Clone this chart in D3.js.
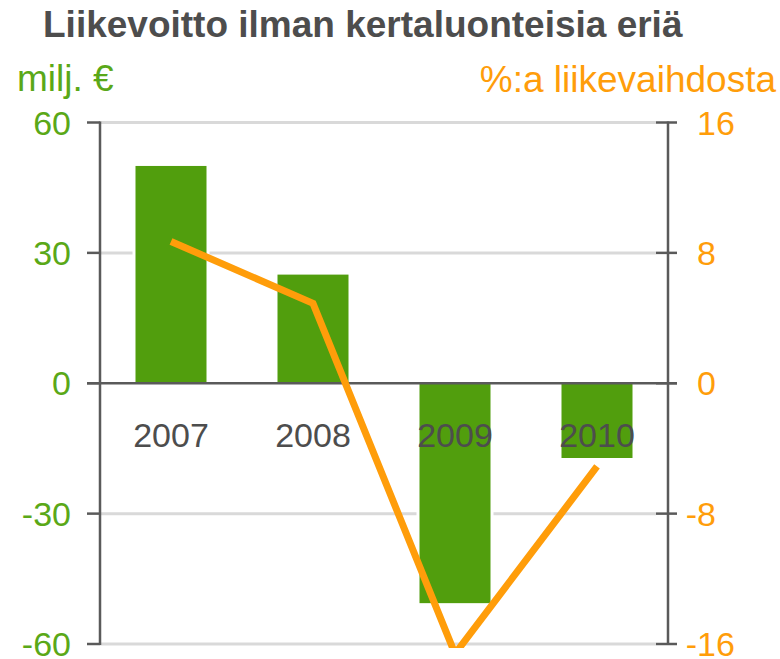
<!DOCTYPE html>
<html>
<head>
<meta charset="utf-8">
<script src="https://cdn.jsdelivr.net/npm/d3@7"></script>
<style>
  html, body { margin: 0; padding: 0; background: #fff; }
  svg { display: block; font-family: "Liberation Sans", Arial, sans-serif; }
</style>
</head>
<body>
<svg id="chart" width="780" height="659"></svg>
<script>
// ---- data ----
const years = ["2007", "2008", "2009", "2010"];
const profit = [50, 25, -50.6, -17.2];        // milj. €
const margin = [8.7, 4.9, -16.6, -5.1];         // %:a liikevaihdosta
const leftTicks = [60, 30, 0, -30, -60];
const rightTicks = [16, 8, 0, -8, -16];
const title = "Liikevoitto ilman kertaluonteisia eriä";
const leftTitle = "milj. €";
const rightTitle = "%:a liikevaihdosta";

// ---- style ----
const green = "#519E0D", greenText = "#5AA818";
const orange = "#FF9D0A", grayText = "#4D4D4D";
const axisCol = "#5A5A5A", gridCol = "#D9D9D9";

const svg = d3.select("#chart");
const X0 = 100, X1 = 668, Y0 = 122.5, Y1 = 644;

const x = d3.scaleBand().domain(years).range([X0, X1]).paddingInner(0.5).paddingOuter(0.25);
const yL = d3.scaleLinear().domain([-60, 60]).range([Y1, Y0]);
const yR = d3.scaleLinear().domain([-16, 16]).range([Y1, Y0]);

// gridlines
svg.append("g").selectAll("line").data(leftTicks.filter(d => d !== 0)).join("line")
  .attr("x1", X0).attr("x2", X1 - 12)
  .attr("y1", d => yL(d)).attr("y2", d => yL(d))
  .attr("stroke", gridCol).attr("stroke-width", 3);

// bars: white halo + green bar
const bars = svg.append("g");
bars.selectAll("rect.halo").data(years).join("rect").attr("class", "halo")
  .attr("x", d => x(d) - 3).attr("width", x.bandwidth() + 6)
  .attr("y", (d, i) => Math.min(yL(profit[i]), yL(0)) - 3)
  .attr("height", (d, i) => Math.abs(yL(profit[i]) - yL(0)) + 6)
  .attr("fill", "#fff");
bars.selectAll("rect.bar").data(years).join("rect").attr("class", "bar")
  .attr("x", d => x(d)).attr("width", x.bandwidth())
  .attr("y", (d, i) => Math.min(yL(profit[i]), yL(0)))
  .attr("height", (d, i) => Math.abs(yL(profit[i]) - yL(0)))
  .attr("fill", green);

// left axis
const gL = svg.append("g");
gL.append("line").attr("x1", X0).attr("x2", X0).attr("y1", Y0 - 1).attr("y2", Y1 + 1)
  .attr("stroke", axisCol).attr("stroke-width", 2.5);
gL.selectAll("line.t").data(leftTicks).join("line").attr("class", "t")
  .attr("x1", 87).attr("x2", X0).attr("y1", d => yL(d)).attr("y2", d => yL(d))
  .attr("stroke", axisCol).attr("stroke-width", 2.5);
gL.selectAll("text").data(leftTicks).join("text")
  .attr("x", 71).attr("y", d => yL(d) + 12)
  .attr("text-anchor", "end").attr("font-size", 34).attr("fill", greenText)
  .text(d => d);

// right axis
const gR = svg.append("g");
gR.append("line").attr("x1", X1).attr("x2", X1).attr("y1", Y0 - 1).attr("y2", Y1 + 1)
  .attr("stroke", axisCol).attr("stroke-width", 2.5);
gR.selectAll("line.t").data(rightTicks).join("line").attr("class", "t")
  .attr("x1", X1 - 12).attr("x2", X1 + 9).attr("y1", d => yR(d)).attr("y2", d => yR(d))
  .attr("stroke", axisCol).attr("stroke-width", 2.5);
gR.selectAll("text").data(rightTicks).join("text")
  .attr("x", 697).attr("y", d => yR(d) + 12)
  .attr("dx", d => d < 0 ? "-0.333em" : 0)
  .attr("text-anchor", "start").attr("font-size", 34).attr("fill", orange)
  .text(d => d);

// zero / category axis
svg.append("line").attr("x1", 87).attr("x2", X1 + 9).attr("y1", yL(0)).attr("y2", yL(0))
  .attr("stroke", axisCol).attr("stroke-width", 2.5);

// category labels
svg.append("g").selectAll("text").data(years).join("text")
  .attr("x", d => x(d) + x.bandwidth() / 2).attr("y", 447)
  .attr("text-anchor", "middle").attr("font-size", 34).attr("fill", grayText)
  .text(d => d);

// line (right axis)
svg.append("clipPath").attr("id", "clipPlot").append("rect")
  .attr("x", 0).attr("y", 0).attr("width", 780).attr("height", 648);
svg.append("path")
  .datum(years.map((d, i) => [x(d) + x.bandwidth() / 2, yR(margin[i])]))
  .attr("d", d3.line())
  .attr("clip-path", "url(#clipPlot)")
  .attr("fill", "none").attr("stroke", orange).attr("stroke-width", 7)
  .attr("stroke-linejoin", "miter").attr("stroke-miterlimit", 10);

// titles
svg.append("text").attr("x", 43).attr("y", 37).attr("font-size", 37).attr("font-weight", "bold")
  .attr("fill", grayText).text(title);
svg.append("text").attr("x", 17).attr("y", 91).attr("font-size", 37)
  .attr("fill", greenText).text(leftTitle);
svg.append("text").attr("x", 776).attr("y", 92).attr("font-size", 37).attr("text-anchor", "end")
  .attr("fill", orange).text(rightTitle);
</script>
</body>
</html>
